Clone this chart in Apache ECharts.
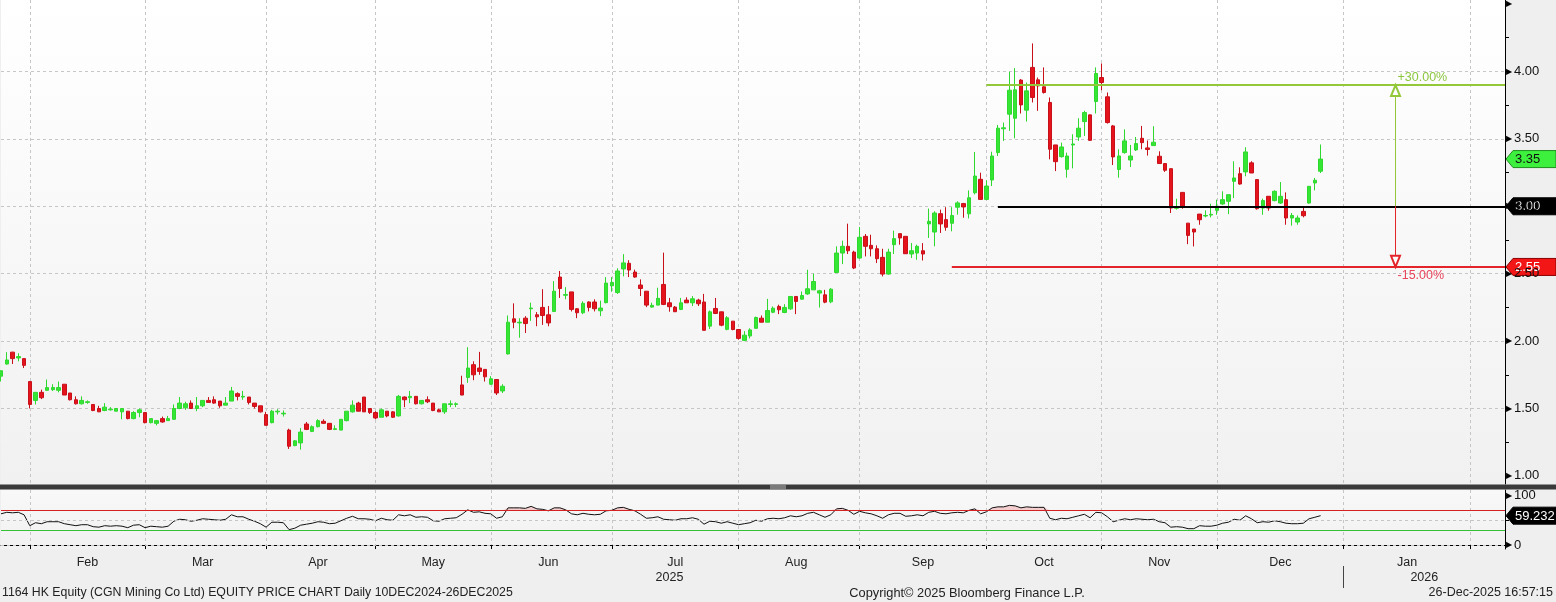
<!DOCTYPE html>
<html><head><meta charset="utf-8">
<script src="https://cdn.jsdelivr.net/npm/echarts@6/dist/echarts.min.js"></script>
<style>html,body{margin:0;padding:0;background:#efefef;}#c{width:1556px;height:602px;}</style>
</head><body><div id="c"></div>
<script>
// ---------- calendar (HK trading slots) ----------
const holidays = ['2025-01-29','2025-01-30','2025-01-31','2025-04-04','2025-04-18','2025-04-21','2025-05-01','2025-05-05','2025-07-01','2025-10-01','2025-10-07','2025-10-29','2025-12-25'];
const firstSlot = '2025-01-22', lastSlot = '2026-02-10';
const monthNames = ['Jan','Feb','Mar','Apr','May','Jun','Jul','Aug','Sep','Oct','Nov','Dec'];

// ---------- daily OHLC ----------
const opens = [1.74,1.83,1.918,1.875,1.87,1.70,1.56,1.62,1.635,1.64,
1.635,1.68,1.615,1.565,1.535,1.545,1.53,1.50,1.485,1.49,
1.48,1.475,1.48,1.425,1.47,1.47,1.395,1.39,1.425,1.41,
1.42,1.50,1.505,1.54,1.50,1.52,1.56,1.565,1.555,1.525,
1.555,1.61,1.585,1.585,1.54,1.52,1.455,1.395,1.475,1.46,
1.34,1.225,1.245,1.385,1.33,1.365,1.405,1.39,1.345,1.34,
1.41,1.475,1.54,1.585,1.50,1.47,1.435,1.48,1.475,1.445,
1.585,1.58,1.59,1.535,1.565,1.54,1.49,1.475,1.53,1.53,
1.675,1.73,1.825,1.80,1.79,1.68,1.715,1.63,1.905,2.165,
2.135,2.17,2.24,2.195,2.25,2.195,2.22,2.475,2.34,2.365,
2.24,2.21,2.29,2.29,2.225,2.285,2.41,2.36,2.535,2.577,
2.512,2.416,2.37,2.252,2.267,2.42,2.284,2.252,2.235,2.304,
2.284,2.304,2.29,2.111,2.242,2.217,2.087,2.148,2.086,2.005,
2.038,2.095,2.17,2.14,2.214,2.257,2.212,2.239,2.331,2.311,
2.35,2.38,2.356,2.343,2.291,2.509,2.653,2.703,2.66,2.616,
2.777,2.71,2.685,2.621,2.497,2.715,2.797,2.777,2.646,2.653,
2.67,2.869,2.809,2.945,2.901,2.874,2.993,3.02,2.944,3.10,
3.20,3.051,3.195,3.398,3.575,3.683,3.653,3.936,3.713,4.03,
3.938,3.886,3.77,3.455,3.368,3.274,3.455,3.514,3.628,3.678,
3.777,3.955,3.812,3.596,3.273,3.398,3.343,3.418,3.504,3.433,
3.45,3.371,3.317,3.279,2.985,3.103,2.875,2.831,2.942,2.928,
2.935,2.97,3.017,3.037,3.185,3.242,3.255,3.322,3.198,2.987,
3.074,3.042,3.024,3.049,2.913,2.883,2.962,3.024,3.173,3.26];
const closes = [1.78,1.86,1.87,1.885,1.82,1.53,1.62,1.58,1.655,1.655,
1.655,1.60,1.565,1.535,1.56,1.55,1.485,1.475,1.51,1.495,
1.50,1.50,1.425,1.47,1.49,1.395,1.425,1.41,1.40,1.425,
1.50,1.54,1.535,1.50,1.52,1.56,1.545,1.54,1.52,1.54,
1.63,1.59,1.59,1.545,1.515,1.475,1.375,1.48,1.48,1.465,
1.22,1.26,1.325,1.345,1.365,1.41,1.39,1.345,1.35,1.42,
1.48,1.525,1.48,1.475,1.47,1.43,1.49,1.445,1.435,1.59,
1.565,1.59,1.535,1.56,1.55,1.485,1.475,1.535,1.535,1.535,
1.60,1.80,1.75,1.775,1.735,1.72,1.615,1.665,2.14,2.14,
2.14,2.13,2.245,2.18,2.19,2.135,2.37,2.39,2.345,2.235,
2.21,2.28,2.25,2.24,2.245,2.43,2.435,2.52,2.58,2.527,
2.475,2.39,2.267,2.265,2.317,2.272,2.255,2.218,2.284,2.284,
2.314,2.277,2.08,2.217,2.205,2.118,2.173,2.086,2.02,2.044,
2.083,2.175,2.14,2.227,2.244,2.232,2.25,2.331,2.294,2.338,
2.388,2.442,2.373,2.289,2.385,2.653,2.703,2.67,2.542,2.77,
2.703,2.685,2.611,2.497,2.66,2.76,2.765,2.648,2.67,2.703,
2.646,2.888,2.95,2.869,2.844,2.931,3.025,2.995,3.063,3.224,
3.051,3.15,3.373,3.579,3.582,3.861,3.864,3.752,3.856,3.807,
3.893,3.844,3.423,3.331,3.44,3.373,3.462,3.579,3.695,3.489,
3.985,3.918,3.621,3.366,3.373,3.485,3.373,3.465,3.472,3.421,
3.475,3.317,3.267,2.987,2.995,3.0,2.784,2.809,2.9,2.932,
2.94,3.0,3.049,3.086,3.21,3.165,3.403,3.247,2.982,3.042,
2.987,3.111,3.074,2.913,2.932,2.913,2.93,3.148,3.193,3.35];
const lows = [1.70,1.826,1.83,1.85,1.80,1.50,1.53,1.57,1.63,1.63,
1.62,1.60,1.56,1.53,1.53,1.535,1.48,1.475,1.48,1.485,
1.48,1.42,1.42,1.42,1.435,1.39,1.39,1.375,1.395,1.41,
1.415,1.495,1.49,1.50,1.48,1.51,1.545,1.535,1.505,1.525,
1.555,1.56,1.565,1.53,1.50,1.47,1.375,1.39,1.455,1.44,
1.20,1.22,1.195,1.34,1.325,1.36,1.385,1.34,1.34,1.34,
1.405,1.47,1.48,1.475,1.46,1.42,1.435,1.435,1.43,1.44,
1.51,1.54,1.53,1.53,1.54,1.48,1.475,1.46,1.51,1.51,
1.598,1.69,1.71,1.75,1.70,1.675,1.60,1.615,1.90,2.095,
2.025,2.06,2.15,2.11,2.12,2.11,2.215,2.32,2.31,2.22,
2.17,2.20,2.22,2.22,2.185,2.28,2.366,2.35,2.48,2.475,
2.47,2.334,2.252,2.248,2.265,2.267,2.218,2.215,2.23,2.284,
2.26,2.26,2.079,2.09,2.20,2.11,2.08,2.08,2.01,2.0,
2.02,2.09,2.14,2.14,2.207,2.20,2.207,2.232,2.20,2.306,
2.343,2.38,2.249,2.281,2.281,2.509,2.571,2.646,2.534,2.611,
2.628,2.628,2.579,2.48,2.492,2.646,2.715,2.646,2.616,2.603,
2.598,2.765,2.703,2.802,2.819,2.814,2.938,2.915,2.91,3.088,
3.051,3.046,3.15,3.373,3.485,3.559,3.504,3.688,3.628,3.77,
3.708,3.836,3.348,3.261,3.361,3.212,3.281,3.485,3.522,3.485,
3.688,3.861,3.613,3.306,3.212,3.39,3.291,3.41,3.423,3.376,
3.45,3.317,3.255,2.95,2.975,2.982,2.719,2.702,2.863,2.918,
2.918,2.937,3.012,2.942,3.061,3.16,3.222,3.247,2.975,2.937,
2.967,3.037,3.017,2.863,2.856,2.863,2.918,3.019,3.118,3.247];
const highs = [1.78,1.918,1.92,1.91,1.87,1.70,1.62,1.64,1.715,1.68,
1.70,1.68,1.615,1.59,1.59,1.56,1.53,1.52,1.54,1.51,
1.50,1.50,1.48,1.48,1.50,1.47,1.425,1.415,1.44,1.445,
1.53,1.585,1.55,1.56,1.585,1.56,1.585,1.59,1.555,1.585,
1.66,1.62,1.63,1.585,1.54,1.52,1.475,1.49,1.495,1.485,
1.35,1.265,1.355,1.40,1.375,1.42,1.42,1.39,1.375,1.42,
1.48,1.56,1.55,1.585,1.50,1.48,1.50,1.48,1.48,1.60,
1.59,1.63,1.59,1.56,1.59,1.54,1.50,1.535,1.56,1.545,
1.743,1.955,1.85,1.92,1.79,1.74,1.715,1.68,2.19,2.28,
2.17,2.185,2.285,2.215,2.385,2.26,2.445,2.52,2.40,2.365,
2.245,2.295,2.295,2.31,2.30,2.475,2.475,2.54,2.645,2.60,
2.53,2.458,2.37,2.285,2.396,2.656,2.32,2.26,2.32,2.325,
2.334,2.314,2.35,2.227,2.32,2.217,2.185,2.148,2.086,2.074,
2.095,2.182,2.19,2.313,2.257,2.27,2.274,2.331,2.331,2.368,
2.529,2.50,2.38,2.38,2.393,2.703,2.745,2.871,2.67,2.846,
2.794,2.789,2.71,2.685,2.685,2.819,2.797,2.777,2.727,2.715,
2.727,2.983,2.963,2.975,2.993,2.993,3.037,3.025,3.118,3.403,
3.249,3.192,3.405,3.603,3.621,3.998,4.025,3.943,3.918,4.208,
3.955,4.03,3.807,3.455,3.472,3.398,3.534,3.653,3.708,3.678,
4.03,4.059,3.844,3.603,3.423,3.571,3.455,3.514,3.596,3.488,
3.594,3.408,3.317,3.279,3.056,3.103,2.875,2.831,2.942,2.97,
3.019,3.049,3.111,3.086,3.334,3.289,3.438,3.334,3.198,3.056,
3.074,3.118,3.18,3.103,2.95,2.932,2.992,3.148,3.21,3.458];

// ---------- RSI ----------
const rsi = [63,66,65,66,61,39,45,43,47,47,
47,43,41,39,41,41,37,36,39,38,
39,38,35,40,41,35,38,37,36,38,
48,52,51,48,50,53,52,51,50,52,
61,57,57,52,48,43,36,46,46,45,
31,34,40,42,44,47,46,43,44,49,
54,58,53,53,52,49,54,51,50,61,
59,61,56,57,56,49,48,53,54,55,
62,71,66,67,64,63,54,57,75,75,
75,74,78,73,72,69,75,75,71,63,
61,64,62,61,62,69,70,75,76,72,
69,62,54,55,57,52,51,50,53,53,
55,52,42,48,47,44,47,44,41,43,
45,50,48,53,54,53,55,59,57,59,
64,66,61,56,61,73,74,70,62,68,
65,63,59,54,61,64,64,58,59,61,
59,66,68,64,63,65,66,65,70,73,
63,67,75,77,77,80,79,75,77,76,
76,76,54,51,54,53,56,59,62,55,
66,65,57,47,50,53,51,53,52,51,
52,47,45,36,37,36,33,33,39,38,
38,40,44,46,52,50,59,53,45,47,
46,49,47,44,43,43,44,53,56,59.232];

// ---------- annotation levels & axis ticks ----------
const levelValues = [3.90, 3.00, 2.55];
const levelStarts = ['2025-10-02', '2025-10-06', '2025-09-23'];
const levelColors = ['#93c83a', '#000000', '#e3242b'];
const arrowDate = '2026-01-14';
const arrowLabels = ['+30.00%', '-15.00%'];
const priceTicks = [1.0,1.5,2.0,2.5,3.0,3.5,4.0,4.5];
const priceMinorTicks = [1.25,1.75,2.25,2.75,3.25,3.75,4.25];
const rsiTicks = [0, 50, 100];
const rsiLabelTicks = [0, 100];
const lastPrice = 3.35;
const lastRsi = 59.232;

// ---------- build categories ----------
const dates = [];
(function(){
  let t = Date.parse(firstSlot + 'T00:00:00Z'); const end = Date.parse(lastSlot + 'T00:00:00Z');
  while (t <= end) { const d = new Date(t); const wd = d.getUTCDay(); const s = d.toISOString().slice(0,10);
    if (wd !== 0 && wd !== 6 && holidays.indexOf(s) < 0) dates.push(s); t += 86400000; }
})();
const monthStarts = [];
for (let i = 1; i < dates.length; i++) if (dates[i].slice(0,7) !== dates[i-1].slice(0,7)) monthStarts.push(i);
const monthStartSet = new Set(monthStarts);
const monthLabelSet = new Set();
for (let k = 0; k + 1 < monthStarts.length; k++) monthLabelSet.add(Math.floor((monthStarts[k] + monthStarts[k+1]) / 2));
const yearStartIdx = [];
for (let i = 1; i < dates.length; i++) if (dates[i].slice(0,4) !== dates[i-1].slice(0,4)) yearStartIdx.push(i);
const yearBounds = [0].concat(yearStartIdx).concat([dates.length - 1]);
const yearLabelSet = new Set();
for (let k = 0; k + 1 < yearBounds.length; k++) yearLabelSet.add(Math.floor((yearBounds[k] + yearBounds[k+1]) / 2));
const yearTickSet = new Set(yearStartIdx);

const candles = opens.map((o, i) => [o, closes[i], lows[i], highs[i]]);
const rsiBase = rsi.map(() => 70);
const rsiExcess = rsi.map(v => Math.max(v, 70) - 70);

const FONT = '"Liberation Sans", Arial, sans-serif';
const grid = '#c6c6c6';
const lastCat = dates[dates.length - 1];

const levelLines = levelValues.map((v, k) => [
  {coord: [levelStarts[k], v], lineStyle: {color: levelColors[k], width: 2, type: 'solid'}},
  {coord: [lastCat, v]}
]);
const inset = 0.042;
const arrowLines = [
  [{coord: [arrowDate, levelValues[1]], symbol: 'none', lineStyle: {color: levelColors[0], width: 1, type: 'solid'}},
   {coord: [arrowDate, levelValues[0] - inset], symbol: 'emptyTriangle', symbolSize: [9, 11]}],
  [{coord: [arrowDate, levelValues[1]], symbol: 'none', lineStyle: {color: levelColors[2], width: 1, type: 'solid'}},
   {coord: [arrowDate, levelValues[2] + inset], symbol: 'emptyTriangle', symbolSize: [9, 11]}]
];

const chart = echarts.init(document.getElementById('c'), null, {renderer: 'canvas'});
const priceAxisBase = {type: 'value', gridIndex: 0, position: 'right', min: 0.94, max: 4.53, splitNumber: 7};
const option = {
  backgroundColor: '#efefef',
  animation: false,
  textStyle: {fontFamily: FONT},
  grid: [
    {left: 1, right: 51, top: 0, height: 484, show: true, borderWidth: 0, outerBoundsMode: 'none',
     backgroundColor: {type: 'linear', x: 0, y: 0, x2: 0, y2: 1, colorStops: [{offset: 0, color: '#ffffff'}, {offset: 1, color: '#f1f1f1'}]}},
    {left: 1, right: 51, top: 490, height: 59, show: true, borderWidth: 0, outerBoundsMode: 'none',
     backgroundColor: {type: 'linear', x: 0, y: 0, x2: 0, y2: 1, colorStops: [{offset: 0, color: '#f8f8f8'}, {offset: 1, color: '#f1f1f1'}]}}
  ],
  xAxis: [
    {type: 'category', gridIndex: 0, data: dates, boundaryGap: false,
     axisLine: {show: false}, axisTick: {show: false}, axisLabel: {show: false},
     splitLine: {show: true, interval: (i) => monthStartSet.has(i), lineStyle: {color: grid, width: 1, type: [3, 3]}}},
    {type: 'category', gridIndex: 1, data: dates, boundaryGap: false,
     axisLine: {show: true, lineStyle: {color: '#000', width: 1}},
     axisTick: {show: true, interval: (i) => monthStartSet.has(i), length: 4, lineStyle: {color: '#000'}},
     axisLabel: {show: true, interval: (i) => monthLabelSet.has(i), formatter: (v) => monthNames[+v.slice(5,7) - 1],
       margin: 7, color: '#222', fontSize: 12.5, fontFamily: FONT},
     splitLine: {show: true, interval: (i) => monthStartSet.has(i), lineStyle: {color: grid, width: 1, type: [3, 3]}}},
    {type: 'category', gridIndex: 1, data: dates, boundaryGap: false, position: 'bottom', offset: 17,
     axisLine: {show: false},
     axisTick: {show: true, interval: (i) => yearTickSet.has(i), length: 22, lineStyle: {color: '#444'}},
     axisLabel: {show: true, interval: (i) => yearLabelSet.has(i), formatter: (v) => v.slice(0,4),
       margin: 5, color: '#222', fontSize: 12.5, fontFamily: FONT},
     splitLine: {show: false}}
  ],
  yAxis: [
    Object.assign({}, priceAxisBase, {
     axisLine: {show: true, lineStyle: {color: '#000', width: 1}},
     axisTick: {show: true, length: 5, customValues: priceTicks, lineStyle: {color: '#000'}},
     axisLabel: {show: true, customValues: priceTicks, margin: 1, color: '#111', fontSize: 13, fontFamily: FONT,
       formatter: (v) => {
         if (Math.abs(v * 2 - Math.round(v * 2)) > 1e-6) return '';
         if (v > 4.4) return '{t|▶}';
         return '{t|▶}' + v.toFixed(2);
       },
       rich: {t: {fontSize: 8, color: '#000', padding: [0, 2, 0, 0]}}},
     splitLine: {show: true, showMinLine: false, showMaxLine: false, lineStyle: {color: grid, width: 1, type: [3, 3]}}}),
    {type: 'value', gridIndex: 1, position: 'right', min: -8, max: 111, splitNumber: 2,
     axisLine: {show: true, lineStyle: {color: '#000', width: 1}},
     axisTick: {show: true, length: 4, customValues: rsiTicks, lineStyle: {color: '#000'}},
     axisLabel: {show: true, customValues: rsiLabelTicks, margin: 1, color: '#111', fontSize: 13, fontFamily: FONT,
       formatter: (v) => (v === 0 || v === 100) ? '{t|▶}' + v : '',
       rich: {t: {fontSize: 8, color: '#000', padding: [0, 2, 0, 0]}}},
     splitLine: {show: false}},
    Object.assign({}, priceAxisBase, {
     axisLine: {show: false},
     axisTick: {show: true, length: 4, customValues: priceMinorTicks, lineStyle: {color: '#000'}},
     axisLabel: {show: false}, splitLine: {show: false}})
  ],
  series: [
    {type: 'candlestick', name: 'price', xAxisIndex: 0, yAxisIndex: 0, data: candles, barWidth: 4, silent: true,
     itemStyle: {color: '#35e635', color0: '#e5141c', borderColor: '#2fd82f', borderColor0: '#c8101a', borderWidth: 1},
     markLine: {silent: true, symbol: 'none', animation: false, label: {show: false},
       data: levelLines.concat(arrowLines)}},
    {type: 'line', xAxisIndex: 1, yAxisIndex: 1, data: rsiBase, stack: 'ob', symbol: 'none', silent: true,
     lineStyle: {width: 0, opacity: 0}, z: 1},
    {type: 'line', xAxisIndex: 1, yAxisIndex: 1, data: rsiExcess, stack: 'ob', symbol: 'none', silent: true,
     lineStyle: {width: 0, opacity: 0}, areaStyle: {color: 'rgba(238,120,120,0.45)'}, z: 1},
    {type: 'line', xAxisIndex: 1, yAxisIndex: 1, data: rsi, symbol: 'none', silent: true, z: 3,
     lineStyle: {color: '#111', width: 1},
     markLine: {silent: true, symbol: 'none', animation: false, label: {show: false},
       data: [
         {yAxis: 70, lineStyle: {color: '#d42222', width: 1, type: 'solid'}},
         {yAxis: 30, lineStyle: {color: '#35c035', width: 1, type: 'solid'}},
         {yAxis: 50, lineStyle: {color: grid, width: 1, type: [3, 3]}},
         {yAxis: 0, lineStyle: {color: grid, width: 1, type: [3, 3]}}
       ]}}
  ]
};
chart.setOption(option);

// ---------- decorations positioned through the chart's own scales ----------
const yP = (v) => chart.convertToPixel({yAxisIndex: 0}, v);
const yR = (v) => chart.convertToPixel({yAxisIndex: 1}, v);
const xA = chart.convertToPixel({xAxisIndex: 0}, arrowDate);
function tag(y, fill, stroke, color, text) {
  return {type: 'group', z: 100, children: [
    {type: 'polygon', shape: {points: [[1506, y], [1513, y - 8.5], [1556, y - 8.5], [1556, y + 8.5], [1513, y + 8.5]]},
     style: {fill: fill, stroke: stroke, lineWidth: 1}},
    {type: 'text', x: 1515, y: y + 0.5, style: {text: text, fill: color, font: '13px ' + FONT, align: 'left', verticalAlign: 'middle'}}
  ]};
}
const graphics = [
  {type: 'rect', z: 50, shape: {x: 0, y: 484.5, width: 1556, height: 5}, style: {fill: '#3a3a3a'}},
  {type: 'rect', z: 51, shape: {x: 770, y: 485.5, width: 16, height: 1}, style: {fill: '#bdbdbd'}},
  {type: 'rect', z: 51, shape: {x: 770, y: 487.5, width: 16, height: 1}, style: {fill: '#bdbdbd'}},
  {type: 'text', z: 60, x: xA + 2, y: yP(levelValues[0]) - 7, style: {text: arrowLabels[0], fill: '#8cc63f', font: '12.5px ' + FONT, align: 'left', verticalAlign: 'middle'}},
  {type: 'text', z: 60, x: xA + 2, y: yP(levelValues[2]) + 9, style: {text: arrowLabels[1], fill: '#e8445a', font: '12.5px ' + FONT, align: 'left', verticalAlign: 'middle'}},
  tag(yP(lastPrice), '#3ef03e', '#1d8f1d', '#111', lastPrice.toFixed(2)),
  tag(yP(levelValues[1]), '#000000', '#000000', '#ffffff', levelValues[1].toFixed(2)),
  tag(yP(levelValues[2]), '#f21616', '#8a0000', '#ffffff', levelValues[2].toFixed(2)),
  tag(yR(lastRsi), '#000000', '#000000', '#ffffff', String(lastRsi)),
  {type: 'text', z: 60, x: 2, y: 593, style: {text: '1164 HK Equity (CGN Mining Co Ltd) EQUITY PRICE CHART Daily 10DEC2024-26DEC2025', fill: '#222', font: '12.3px ' + FONT, align: 'left', verticalAlign: 'middle'}},
  {type: 'text', z: 60, x: 967, y: 593, style: {text: 'Copyright\u00A9 2025 Bloomberg Finance L.P.', fill: '#222', font: '12.8px ' + FONT, align: 'center', verticalAlign: 'middle'}},
  {type: 'text', z: 60, x: 1553, y: 593, style: {text: '26-Dec-2025 16:57:15', fill: '#222', font: '12.5px ' + FONT, align: 'right', verticalAlign: 'middle'}}
];
chart.setOption({graphic: graphics});
</script></body></html>
